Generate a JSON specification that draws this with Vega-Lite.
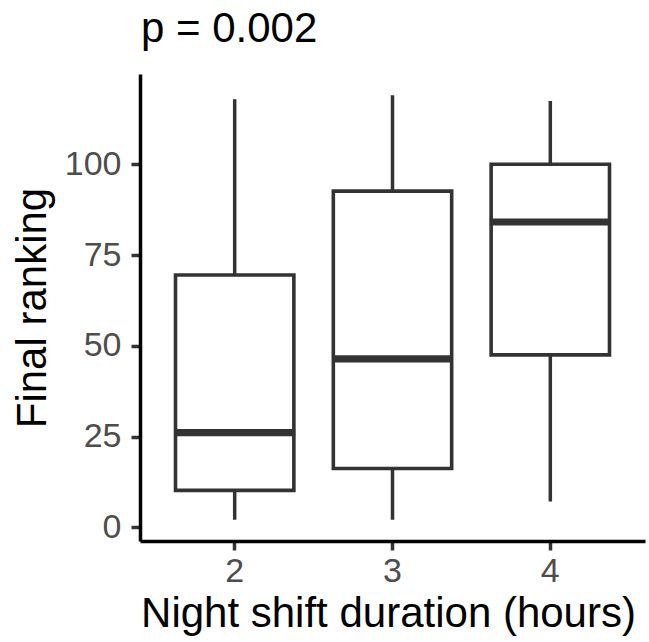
{
  "$schema": "https://vega.github.io/schema/vega-lite/v6.json",
  "autosize": "none",
  "padding": {"left": 140, "top": 74, "right": 4, "bottom": 101},
  "width": 505,
  "height": 467,
  "background": "white",
  "title": {
    "text": "p = 0.002",
    "anchor": "start",
    "frame": "group",
    "baseline": "alphabetic",
    "offset": 30,
    "dy": 40,
    "dx": 1,
    "font": "Liberation Sans",
    "fontSize": 42,
    "fontWeight": "normal",
    "color": "black"
  },
  "config": {
    "view": {"stroke": null},
    "font": "Liberation Sans",
    "axis": {
      "grid": false,
      "domainColor": "black",
      "domainWidth": 3.5,
      "tickColor": "#333333",
      "tickWidth": 3.5,
      "tickSize": 9,
      "labelFont": "Liberation Sans",
      "labelFontSize": 34,
      "labelColor": "#4D4D4D",
      "labelPadding": 10,
      "titleFont": "Liberation Sans",
      "titleFontSize": 42,
      "titleFontWeight": "normal",
      "titleColor": "black"
    }
  },
  "data": {
    "values": [
      {"hours": "2", "lower": 2.1, "q1": 10.2, "median": 26.1, "q3": 69.5, "upper": 117.9},
      {"hours": "3", "lower": 2.1, "q1": 16.2, "median": 46.4, "q3": 92.6, "upper": 119.0},
      {"hours": "4", "lower": 7.1, "q1": 47.5, "median": 84.1, "q3": 100.0, "upper": 117.4}
    ]
  },
  "encoding": {
    "x": {
      "field": "hours",
      "type": "ordinal",
      "scale": {"paddingInner": 0, "paddingOuter": 0.1},
      "axis": {"title": "Night shift duration (hours)", "labelAngle": 0, "labelPadding": 4, "titlePadding": 5, "titleX": 248}
    }
  },
  "layer": [
    {
      "mark": {"type": "rule", "color": "#333333", "strokeWidth": 3.5},
      "encoding": {
        "y": {
          "field": "lower",
          "type": "quantitative",
          "scale": {"domain": [-3.75, 124.85], "nice": false, "zero": false},
          "axis": {"title": "Final ranking", "values": [0, 25, 50, 75, 100], "titlePadding": 10}
        },
        "y2": {"field": "upper"}
      }
    },
    {
      "mark": {"type": "bar", "fill": "white", "stroke": "#333333", "strokeWidth": 3.6, "width": {"band": 0.75}},
      "encoding": {
        "y": {"field": "q1", "type": "quantitative"},
        "y2": {"field": "q3"}
      }
    },
    {
      "mark": {"type": "tick", "color": "#333333", "thickness": 7.2, "size": 121, "opacity": 1},
      "encoding": {
        "y": {"field": "median", "type": "quantitative"}
      }
    }
  ]
}
